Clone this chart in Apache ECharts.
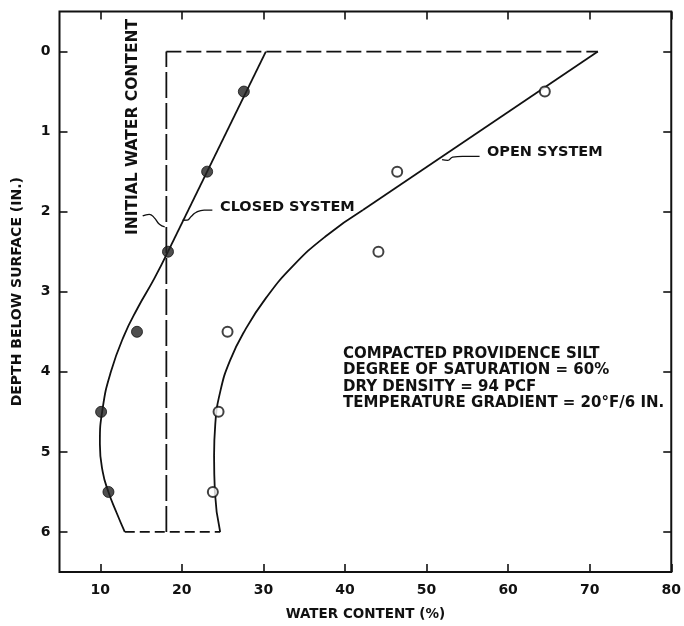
<!DOCTYPE html>
<html><head><meta charset="utf-8">
<script src="https://cdn.jsdelivr.net/npm/echarts@6/dist/echarts.min.js"></script>
<style>html,body{margin:0;padding:0;background:#fff}#c{width:684px;height:626px}</style>
</head><body><div id="c"></div>
<script>
// ---- data ----
var xTicks = [10, 20, 30, 40, 50, 60, 70, 80];
var yTicks = [0, 1, 2, 3, 4, 5, 6];
var closedPts = [[27.6, 0.5], [23.1, 1.5], [18.3, 2.5], [14.5, 3.5], [10.1, 4.5], [11.0, 5.5]];
var openPts = [[64.5, 0.5], [46.4, 1.5], [44.1, 2.5], [25.6, 3.5], [24.5, 4.5], [23.8, 5.5]];
var closedCurveTop = [[30.3, 0], [18.3, 2.5]];
var closedCurveLow = [[18.3, 2.5], [16.6, 2.84], [14.6, 3.2], [12.9, 3.55], [11.3, 4.0], [10.3, 4.45], [9.95, 4.9], [10.3, 5.25], [11.0, 5.5], [12.0, 5.76], [13.0, 6]];
var openCurveTop = [[71, 0], [42.2, 1.98]];
var openCurveLow = [[42.2, 1.98], [37.6, 2.31], [33.6, 2.68], [30.3, 3.08], [27.8, 3.47], [25.9, 3.86], [24.7, 4.25], [24.1, 4.65], [23.95, 5.05], [24.05, 5.5], [24.7, 6]];
var initialVert = [[18.1, 6], [18.1, 0]];
var initialTop = [[18.1, 0], [71, 0]];
var bottomDash = [[13, 6], [24.7, 6]];
var leaderClosed = [[23.74, 1.98], [22.73, 1.98], [21.72, 2.01], [21.14, 2.06], [20.66, 2.105], [20.1, 2.107]];
var leaderInitial = [[15.2, 2.053], [16.0, 2.033], [16.6, 2.074], [17.25, 2.157], [17.9, 2.19]];
var leaderOpen = [[56.5, 1.31], [54.4, 1.31], [53.2, 1.32], [52.6, 1.36], [51.9, 1.35]];
var noteLines = ['COMPACTED PROVIDENCE SILT', 'DEGREE OF SATURATION = 60%', 'DRY DENSITY = 94 PCF', 'TEMPERATURE GRADIENT = 20°F/6 IN.'];

var FONT = 'DejaVu Sans';
var chart = echarts.init(document.getElementById('c'));
function line(data, opts) {
  return Object.assign({type: 'line', data: data, symbol: 'none', silent: true,
    lineStyle: {color: '#111', width: 1.8}, z: 2}, opts || {});
}
var tickBase = {show: true, inside: true, length: 8, lineStyle: {color: '#111', width: 1.6}};
var noLine = {show: false, onZero: false};
var option = {
  animation: false,
  backgroundColor: '#fff',
  grid: {left: 59.5, right: 9, top: 11.5, bottom: 47.5, show: true, borderColor: '#111', borderWidth: 2, backgroundColor: 'transparent'},
  xAxis: [{
    type: 'value', min: 5, max: 80, position: 'bottom',
    axisLine: noLine, splitLine: {show: false},
    axisTick: Object.assign({customValues: xTicks}, tickBase),
    axisLabel: {customValues: xTicks, color: '#111', fontFamily: FONT, fontSize: 14, margin: 11, fontWeight: 'bold'},
    name: 'WATER CONTENT (%)', nameLocation: 'middle', nameGap: 35,
    nameTextStyle: {color: '#111', fontFamily: FONT, fontSize: 13.5, fontWeight: 'bold'}
  }, {
    type: 'value', min: 5, max: 80, position: 'top',
    axisLine: noLine, splitLine: {show: false},
    axisTick: Object.assign({customValues: xTicks}, tickBase),
    axisLabel: {show: false}
  }],
  yAxis: [{
    type: 'value', min: -0.5, max: 6.5, inverse: true, position: 'left',
    axisLine: noLine, splitLine: {show: false},
    axisTick: Object.assign({customValues: yTicks}, tickBase),
    axisLabel: {customValues: yTicks, color: '#111', fontFamily: FONT, fontSize: 14, margin: 9, fontWeight: 'bold'},
    name: 'DEPTH BELOW SURFACE (IN.)', nameLocation: 'middle', nameGap: 35,
    nameTextStyle: {color: '#111', fontFamily: FONT, fontSize: 14, fontWeight: 'bold'}
  }, {
    type: 'value', min: -0.5, max: 6.5, inverse: true, position: 'right',
    axisLine: noLine, splitLine: {show: false},
    axisTick: Object.assign({customValues: yTicks}, tickBase),
    axisLabel: {show: false}
  }],
  series: [
    line(initialVert, {lineStyle: {color: '#111', width: 1.8, type: [26, 5]}}),
    line(initialTop, {lineStyle: {color: '#111', width: 1.8, type: [15, 5]}}),
    line(bottomDash, {lineStyle: {color: '#111', width: 1.8, type: [10, 5]}}),
    line(closedCurveTop),
    line(closedCurveLow, {smooth: 0.5}),
    line(openCurveTop),
    line(openCurveLow, {smooth: 0.5}),
    line(leaderClosed, {smooth: 0.5, lineStyle: {color: '#111', width: 1.3}}),
    line(leaderInitial, {smooth: 0.5, lineStyle: {color: '#111', width: 1.3}}),
    line(leaderOpen, {smooth: 0.5, lineStyle: {color: '#111', width: 1.3}}),
    {type: 'scatter', data: closedPts, symbol: 'circle', symbolSize: 11,
      itemStyle: {color: '#222', borderColor: '#111', borderWidth: 1}, z: 3},
    {type: 'scatter', data: openPts, symbol: 'circle', symbolSize: 10,
      itemStyle: {color: '#fff', borderColor: '#111', borderWidth: 2}, z: 3}
  ],
  graphic: [
    {type: 'text', x: 132.5, y: 127, rotation: Math.PI / 2, style: {text: 'INITIAL WATER CONTENT', fill: '#111', font: 'bold 15.5px ' + FONT, align: 'center', verticalAlign: 'middle'}},
    {type: 'text', x: 220, y: 207, style: {text: 'CLOSED SYSTEM', fill: '#111', font: 'bold 14.5px ' + FONT, verticalAlign: 'middle'}},
    {type: 'text', x: 487, y: 152, style: {text: 'OPEN SYSTEM', fill: '#111', font: 'bold 14.5px ' + FONT, verticalAlign: 'middle'}},
    {type: 'text', x: 343, y: 354, style: {text: noteLines[0], fill: '#111', font: 'bold 15px ' + FONT, verticalAlign: 'middle'}},
    {type: 'text', x: 343, y: 370.5, style: {text: noteLines[1], fill: '#111', font: 'bold 15px ' + FONT, verticalAlign: 'middle'}},
    {type: 'text', x: 343, y: 387, style: {text: noteLines[2], fill: '#111', font: 'bold 15px ' + FONT, verticalAlign: 'middle'}},
    {type: 'text', x: 343, y: 403, style: {text: noteLines[3], fill: '#111', font: 'bold 15px ' + FONT, verticalAlign: 'middle'}}
  ]
};
chart.setOption(option);
</script></body></html>
